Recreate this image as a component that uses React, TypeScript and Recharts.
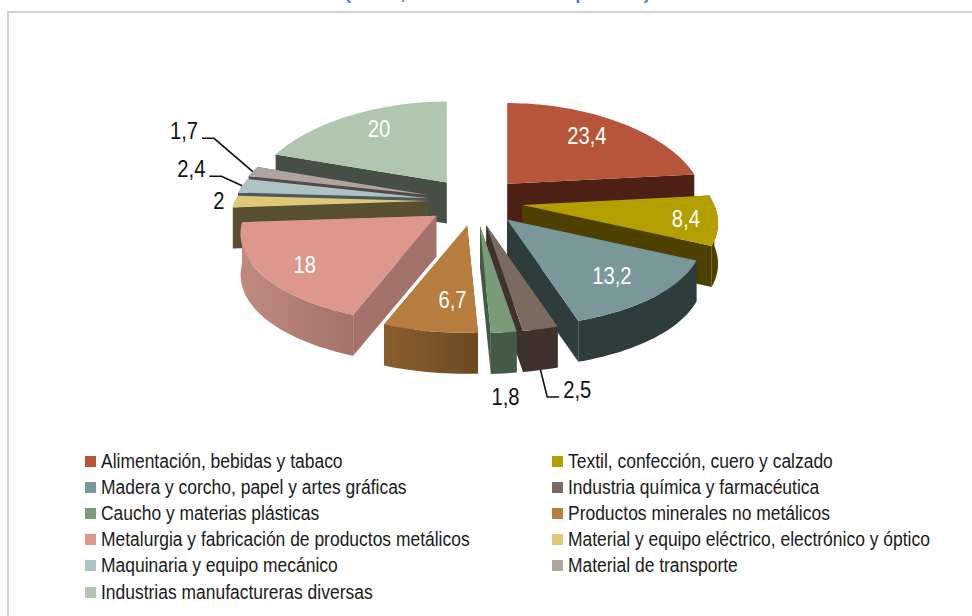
import { PieChart, Pie, Legend } from "recharts"

// ─── Data ─────────────────────────────────────────────────────────────────────

const SECTORS = [
  "Alimentación, bebidas y tabaco",
  "Textil, confección, cuero y calzado",
  "Madera y corcho, papel y artes gráficas",
  "Industria química y farmacéutica",
  "Caucho y materias plásticas",
  "Productos minerales no metálicos",
  "Metalurgia y fabricación de productos metálicos",
  "Material y equipo eléctrico, electrónico y óptico",
  "Maquinaria y equipo mecánico",
  "Material de transporte",
  "Industrias manufactureras diversas",
]
const SHARES = [23.4, 8.4, 13.2, 2.5, 1.8, 6.7, 18, 2, 2.4, 1.7, 20]

// the title is cut off by the top of the picture, only these descenders show
const TITLE_REMAINS = [
  { ch: "(", x: 348 },
  { ch: ",", x: 403 },
  { ch: "p", x: 581 },
  { ch: ")", x: 647 },
]

// ─── Colours ──────────────────────────────────────────────────────────────────

const TOP_COLORS = ["#b7553b", "#b39f00", "#7a9799", "#7b6a60", "#7a9b77", "#b67d3e", "#dd978c", "#dfc878", "#adc3c6", "#b0a4a0", "#b0c6ae"]
const WALL_COLORS = ["#4e1f15", "#4d4000", "#2f3c3c", "#3f322c", "#445a45", "#6b4a22", "#a3726b", "#584e32", "#4c5a5c", "#55494a", "#454f43"]
const WALL_START_COLORS = ["#4e1f15", "#4d4000", "#2f3c3c", "#3f322c", "#445a45", "#8a5e2f", "#c08a80", "#584e32", "#4c5a5c", "#55494a", "#454f43"]

// ─── 3D look ──────────────────────────────────────────────────────────────────

const CX = 475
const CY = 201
const RX = 192
const RY = 94
const PERSPECTIVE_X = 0.2
const PERSPECTIVE_Y = 0.14
const DEPTH = 41
const EXPLODE_X = 48
const EXPLODE_DOWN = 25
const EXPLODE_UP = 23

// back to front, the slices overlap each other
const DRAW_ORDER = [10, 0, 9, 8, 7, 1, 6, 2, 5, 3, 4]

const LABEL_FONT = '"Liberation Sans", Arial, sans-serif'

const chartData = SECTORS.map((name, i) => ({ name, value: SHARES[i], fill: TOP_COLORS[i] }))

// clockwise angle from 12 o'clock, in radians
const toTheta = (deg: number) => ((90 - deg) * Math.PI) / 180

function project(theta: number, r: number) {
  const back = -Math.cos(theta) * r
  return [Math.sin(theta) * r * RX * (1 + PERSPECTIVE_X * back), back * RY * (1 + PERSPECTIVE_Y * back)]
}

function apexOf(midDeg: number) {
  const t = toTheta(midDeg)
  const c = Math.cos(t)
  return [CX + Math.sin(t) * EXPLODE_X, CY - c * (c > 0 ? EXPLODE_UP : EXPLODE_DOWN)]
}

function arcPoints(a0: number, a1: number) {
  const steps = Math.max(2, Math.ceil(Math.abs(a1 - a0) / 0.03))
  const pts: number[][] = []
  for (let i = 0; i <= steps; i++) pts.push(project(a0 + ((a1 - a0) * i) / steps, 1))
  return pts
}

const toPath = (pts: number[][], ox: number, oy: number) =>
  pts.map((p, i) => `${i ? "L" : "M"}${(p[0] + ox).toFixed(1)},${(p[1] + oy).toFixed(1)}`).join(" ") + " Z"

// ─── Slice ────────────────────────────────────────────────────────────────────

function Slice3D(props: any) {
  const { startAngle, endAngle, midAngle, fill } = props
  const idx = SECTORS.indexOf(props.name)
  const t0 = toTheta(startAngle)
  const t1 = toTheta(endAngle)
  const [ax, ay] = apexOf(midAngle)
  const arc = arcPoints(t0, t1)

  const wall = (p: number[]) => [[0, 0], p, [p[0], p[1] + DEPTH], [0, DEPTH]]

  // only the part of the rim that faces the viewer gets an outer wall
  const f0 = Math.max(t0, Math.PI / 2)
  const f1 = Math.min(t1, (3 * Math.PI) / 2)
  let rim: number[][] | null = null
  if (f1 > f0) {
    const front = arcPoints(f0, f1)
    rim = [...front, ...front.slice().reverse().map((p) => [p[0], p[1] + DEPTH])]
  }
  const gid = `wall-${idx}`
  const xs = rim ? rim.map((p) => p[0] + ax) : [0]

  return (
    <g>
      <defs>
        <linearGradient id={gid} gradientUnits="userSpaceOnUse" x1={Math.min(...xs)} x2={Math.max(...xs)} y1={0} y2={0}>
          <stop offset="0%" stopColor={WALL_START_COLORS[idx]} />
          <stop offset="100%" stopColor={WALL_COLORS[idx]} />
        </linearGradient>
      </defs>
      <path d={toPath(wall(arc[arc.length - 1]), ax, ay)} fill={WALL_COLORS[idx]} />
      <path d={toPath(wall(arc[0]), ax, ay)} fill={WALL_COLORS[idx]} />
      {rim && <path d={toPath(rim, ax, ay)} fill={`url(#${gid})`} />}
      <path d={toPath([[0, 0], ...arc], ax, ay)} fill={fill} />
    </g>
  )
}

// ─── Labels ───────────────────────────────────────────────────────────────────

const LABEL_RADIUS = [0.72, 0.86, 0.73, 1.3, 1.4, 0.72, 0.8, 1.15, 1.2, 1.28, 0.72]
const LABEL_NUDGE = [[-3, -1], [-4, 1], [1, 1], [17, 25], [-10, 15], [11, 1], [4, 2], [13, -1], [-15, -14], [-23, -34], [4, -3]]
// 1 = leader runs right of the label, -1 = left of it
const LEADER_SIDE: Record<number, number> = { 3: -1, 8: 1, 9: 1 }
const OUTSIDE = [3, 4, 7, 8, 9]

function SliceLabel(props: any) {
  const { midAngle, value, name } = props
  const idx = SECTORS.indexOf(name)
  const t = toTheta(midAngle)
  const [ax, ay] = apexOf(midAngle)
  const p = project(t, LABEL_RADIUS[idx])
  const x = ax + p[0] + LABEL_NUDGE[idx][0]
  const y = ay + p[1] + LABEL_NUDGE[idx][1]
  const side = LEADER_SIDE[idx]
  const edge = project(t, 1)
  const drop = idx === 3 ? DEPTH : 0

  return (
    <g>
      {side && (
        <polyline
          points={`${x + side * 18},${y + 7} ${x + side * 30},${y + 7} ${ax + edge[0]},${ay + edge[1] + drop}`}
          fill="none"
          stroke="#111"
          strokeWidth={1.6}
        />
      )}
      <text
        transform={`translate(${x},${y}) scale(0.86,1)`}
        textAnchor="middle"
        dominantBaseline="central"
        fontFamily={LABEL_FONT}
        fontSize={23.5}
        fill={OUTSIDE.includes(idx) ? "#111" : "#fff"}
      >
        {String(value).replace(".", ",")}
      </text>
    </g>
  )
}

// ─── Legend ───────────────────────────────────────────────────────────────────

function LegendGrid({ payload }: any) {
  const rows = SECTORS.map((name) => (payload ?? []).find((p: any) => p.value === name)).filter(Boolean)
  return (
    <div style={{ display: "grid", gridTemplateColumns: "467px 420px", gridAutoRows: "26.2px", fontFamily: LABEL_FONT, fontSize: 19.5, color: "#1a1a1a" }}>
      {rows.map((p: any) => (
        <div key={p.value} style={{ display: "flex", alignItems: "center", whiteSpace: "nowrap" }}>
          <span style={{ width: 11, height: 11, background: p.color, marginRight: 5, flexShrink: 0 }} />
          <span style={{ transform: "scaleX(0.895)", transformOrigin: "left center" }}>{p.value}</span>
        </div>
      ))}
    </div>
  )
}

const noSlice = () => <g />

export default function App() {
  return (
    <div style={{ position: "absolute", left: 0, top: 0, width: 972, height: 616, overflow: "hidden", background: "#fff" }}>
      <svg width={972} height={14} style={{ position: "absolute", left: 0, top: 0 }}>
        {TITLE_REMAINS.map((t) => (
          <text key={t.x} x={t.x} y={-1.5} textAnchor="middle" fontFamily={LABEL_FONT} fontSize={19} fontWeight="bold" fill="#4f81bd">
            {t.ch}
          </text>
        ))}
      </svg>
      <div style={{ position: "absolute", left: 7, top: 11, width: 970, height: 620, border: "2px solid #cfcfcf" }} />
      <PieChart width={972} height={616} style={{ position: "absolute", left: 0, top: 0 }}>
        {DRAW_ORDER.map((idx) => (
          <Pie
            key={idx}
            data={chartData}
            dataKey="value"
            nameKey="name"
            cx={CX}
            cy={CY}
            outerRadius={RX}
            startAngle={90}
            endAngle={-270}
            stroke="none"
            isAnimationActive={false}
            shape={(p: any) => (p.name === SECTORS[idx] ? <Slice3D {...p} /> : <g />)}
          />
        ))}
        <Pie
          data={chartData}
          dataKey="value"
          nameKey="name"
          cx={CX}
          cy={CY}
          outerRadius={RX}
          startAngle={90}
          endAngle={-270}
          stroke="none"
          isAnimationActive={false}
          shape={noSlice}
          label={(p: any) => <SliceLabel {...p} />}
          labelLine={false}
        />
        <Legend
          layout="vertical"
          verticalAlign="top"
          align="left"
          wrapperStyle={{ left: 85, top: 448, width: 887 }}
          content={(p: any) => <LegendGrid {...p} />}
        />
      </PieChart>
    </div>
  )
}
